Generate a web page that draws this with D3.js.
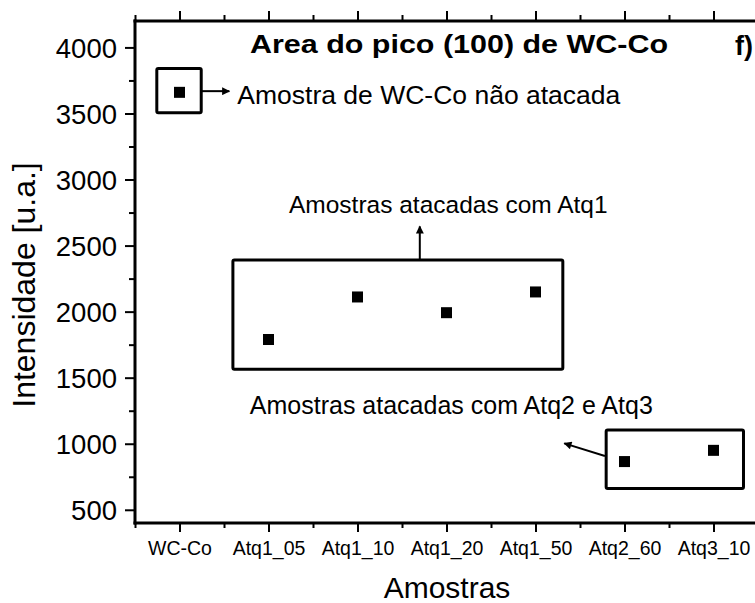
<!DOCTYPE html>
<html>
<head>
<meta charset="utf-8">
<script src="https://cdn.jsdelivr.net/npm/d3@7"></script>
<style>
  html, body { margin: 0; padding: 0; background: #fff; }
  svg { display: block; font-family: "Liberation Sans", Arial, sans-serif; }
</style>
</head>
<body>
<svg id="chart" width="755" height="603"></svg>
<script>
// ---- data ----
const categories = ["WC-Co", "Atq1_05", "Atq1_10", "Atq1_20", "Atq1_50", "Atq2_60", "Atq3_10"];
const values = [3660, 1789, 2111, 1992, 2149, 865, 950];
const yTickValues = [500, 1000, 1500, 2000, 2500, 3000, 3500, 4000];
const yMinorValues = [750, 1250, 1750, 2250, 2750, 3250, 3750];
const titleText = "Area do pico (100) de WC-Co";
const panelLabel = "f)";
const xTitle = "Amostras";
const yTitle = "Intensidade [u.a.]";
// annotation groups: [x0, x1] in category index units, [y0, y1] in data units
const groupBoxes = [
  { x: [-0.255, 0.244], y: [3505, 3841] },
  { x: [0.60, 4.307], y: [1564, 2390] },
  { x: [4.794, 6.337], y: [662, 1104] }
];
const groupArrows = [
  { from: [0.244, 3669], to: [0.56, 3669] },
  { from: [2.70, 2390], to: [2.70, 2645] },
  { from: [4.78, 907], to: [4.323, 1003] }
];
const groupLabels = [
  { text: "Amostra de WC-Co não atacada", x: 0.65, y: 3568, size: 26.5 },
  { text: "Amostras atacadas com Atq1", x: 1.23, y: 2745, size: 24.5 },
  { text: "Amostras atacadas com Atq2 e Atq3", x: 0.79, y: 1225, size: 25 }
];

// ---- layout ----
const svg = d3.select("#chart");
const mLeft = 135, mRight = 758, mTop = 21, mBottom = 523;
const x = d3.scaleLinear().domain([-0.5, 6.5]).range([mLeft, mRight]);
const y = d3.scaleLinear().domain([400, 4200]).range([mBottom, mTop]);

svg.append("defs").append("marker")
  .attr("id", "arrow").attr("viewBox", "0 0 10 10")
  .attr("refX", 9).attr("refY", 5)
  .attr("markerWidth", 12).attr("markerHeight", 8)
  .attr("markerUnits", "userSpaceOnUse")
  .attr("orient", "auto")
  .append("path").attr("d", "M0,0 L10,5 L0,10 Z").attr("fill", "#000");

const axisStroke = 2;
const frameStroke = 3;

// left axis
const yAxis = d3.axisLeft(y).tickValues(yTickValues).tickSize(10).tickPadding(8).tickFormat(d3.format("d"));
const gy = svg.append("g").attr("transform", `translate(${mLeft},0)`).call(yAxis);
gy.select(".domain").remove();
gy.selectAll(".tick line").attr("stroke-width", axisStroke);
gy.selectAll(".tick text").attr("font-size", 27.5).attr("font-family", "Liberation Sans, Arial, sans-serif").attr("fill", "#000").attr("dy", "0.36em");
const gyMinor = svg.append("g").attr("transform", `translate(${mLeft},0)`)
  .call(d3.axisLeft(y).tickValues(yMinorValues).tickSize(6).tickFormat(""));
gyMinor.select(".domain").remove();
gyMinor.selectAll(".tick line").attr("stroke-width", axisStroke);

// bottom axis
const xIdx = categories.map((d, i) => i);
const xMinor = d3.range(-0.5, 7, 1);
const xAxis = d3.axisBottom(x).tickValues(xIdx).tickSize(9).tickPadding(9).tickFormat(i => categories[i]);
const gx = svg.append("g").attr("transform", `translate(0,${mBottom})`).call(xAxis);
gx.select(".domain").remove();
gx.selectAll(".tick line").attr("stroke-width", axisStroke);
gx.selectAll(".tick text").attr("font-size", 19.5).attr("font-family", "Liberation Sans, Arial, sans-serif").attr("fill", "#000");
const gxMinor = svg.append("g").attr("transform", `translate(0,${mBottom})`)
  .call(d3.axisBottom(x).tickValues(xMinor).tickSize(5).tickFormat(""));
gxMinor.select(".domain").remove();
gxMinor.selectAll(".tick line").attr("stroke-width", axisStroke);

// top axis (mirror)
const gt = svg.append("g").attr("transform", `translate(0,${mTop})`)
  .call(d3.axisTop(x).tickValues(xIdx).tickSize(10).tickFormat(""));
gt.select(".domain").remove();
gt.selectAll(".tick line").attr("stroke-width", axisStroke);
const gtMinor = svg.append("g").attr("transform", `translate(0,${mTop})`)
  .call(d3.axisTop(x).tickValues(xMinor).tickSize(6).tickFormat(""));
gtMinor.select(".domain").remove();
gtMinor.selectAll(".tick line").attr("stroke-width", axisStroke);

// frame lines
svg.append("line").attr("x1", mLeft).attr("x2", mLeft).attr("y1", mTop - 1.5).attr("y2", mBottom + 1.5).attr("stroke", "#000").attr("stroke-width", frameStroke);
svg.append("line").attr("x1", mLeft - 1.5).attr("x2", mRight).attr("y1", mBottom).attr("y2", mBottom).attr("stroke", "#000").attr("stroke-width", frameStroke);
svg.append("line").attr("x1", mLeft - 1.5).attr("x2", mRight).attr("y1", mTop).attr("y2", mTop).attr("stroke", "#000").attr("stroke-width", frameStroke);

// annotation boxes
svg.selectAll("rect.group").data(groupBoxes).enter().append("rect")
  .attr("class", "group")
  .attr("x", d => x(d.x[0])).attr("y", d => y(d.y[1]))
  .attr("width", d => x(d.x[1]) - x(d.x[0])).attr("height", d => y(d.y[0]) - y(d.y[1]))
  .attr("rx", 1.5)
  .attr("fill", "none").attr("stroke", "#000").attr("stroke-width", 3);

// arrows
svg.selectAll("line.arrow").data(groupArrows).enter().append("line")
  .attr("class", "arrow")
  .attr("x1", d => x(d.from[0])).attr("y1", d => y(d.from[1]))
  .attr("x2", d => x(d.to[0])).attr("y2", d => y(d.to[1]))
  .attr("stroke", "#000").attr("stroke-width", 2)
  .attr("marker-end", "url(#arrow)");

// labels
svg.selectAll("text.glabel").data(groupLabels).enter().append("text")
  .attr("class", "glabel")
  .attr("x", d => x(d.x)).attr("y", d => y(d.y))
  .attr("font-size", d => d.size).attr("fill", "#000")
  .text(d => d.text);

// points
svg.selectAll("rect.pt").data(values).enter().append("rect")
  .attr("class", "pt")
  .attr("x", (d, i) => x(i) - 5.5).attr("y", d => y(d) - 5.5)
  .attr("width", 11).attr("height", 11).attr("fill", "#000");

// title
svg.append("text").attr("x", 250).attr("y", 53).attr("font-size", 26).attr("font-weight", "bold")
  .attr("textLength", 418).attr("lengthAdjust", "spacingAndGlyphs")
  .attr("fill", "#000").text(titleText);
svg.append("text").attr("x", 735).attr("y", 55).attr("font-size", 27).attr("font-weight", "bold")
  .attr("fill", "#000").text(panelLabel);

// axis titles
svg.append("text").attr("x", 447).attr("y", 598).attr("text-anchor", "middle")
  .attr("font-size", 30).attr("fill", "#000").text(xTitle);
svg.append("text").attr("transform", `translate(35,${285}) rotate(-90)`).attr("text-anchor", "middle")
  .attr("font-size", 32).attr("fill", "#000").text(yTitle);
</script>
</body>
</html>
